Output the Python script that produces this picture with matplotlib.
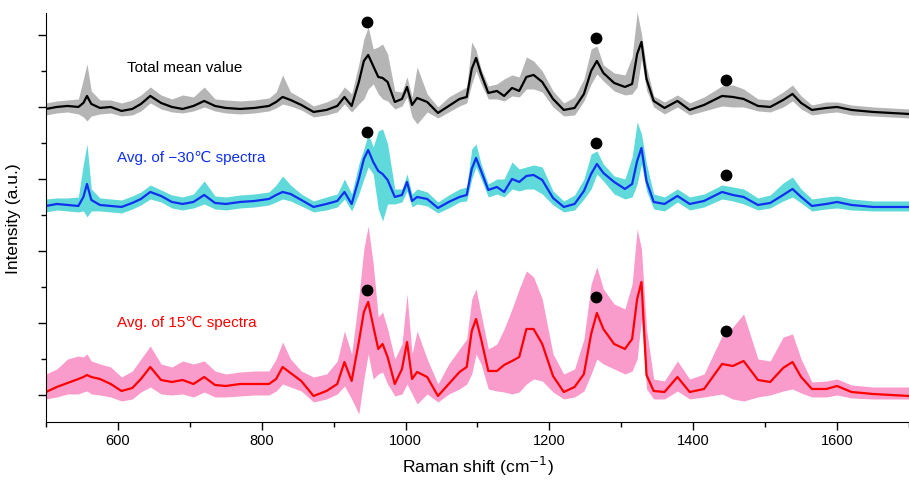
import matplotlib
matplotlib.use("Agg")
import matplotlib.pyplot as plt
from matplotlib.ticker import MultipleLocator

plt.rcParams['font.family'] = ['Liberation Sans', 'DejaVu Sans']

# Raman shift grid (cm^-1), shared by all three spectra
shift = [500, 515, 530, 545, 552, 557, 563, 575, 590, 605,
         620, 632, 645, 660, 675, 690, 705, 720, 735, 750,
         770, 790, 810, 820, 829, 840, 855, 872, 890, 905,
         915, 925, 935, 942, 948, 955, 962, 968, 975, 985,
         995, 1002, 1009, 1016, 1030, 1045, 1060, 1075, 1085, 1092,
         1098, 1105, 1115, 1127, 1137, 1148, 1158, 1168, 1178, 1190,
         1205, 1220, 1235, 1248, 1258, 1266, 1275, 1290, 1305, 1315,
         1322, 1328, 1335, 1345, 1360, 1378, 1395, 1415, 1440, 1455,
         1470, 1490, 1507, 1525, 1538, 1550, 1565, 1585, 1600, 1620,
         1650, 1675, 1700]

# total mean value (a.u., relative to its own baseline)
total_mean = [3, 5, 6, 5, 9, 16, 8, 4, 5, 1,
              3, 8, 16, 9, 5, 3, 6, 11, 6, 4,
              3, 4, 6, 10, 15, 12, 7, 0, 2, 6,
              15, 6, 30, 51, 57, 46, 35, 34, 30, 10,
              13, 25, 7, 14, 10, -1, 6, 13, 15, 43,
              54, 38, 19, 21, 16, 24, 21, 35, 37, 30,
              13, 2, 4, 18, 41, 51, 39, 29, 25, 28,
              58, 70, 33, 11, 4, 11, 2, 7, 16, 15,
              13, 6, 5, 12, 18, 9, 2, 4, 5, 2,
              0, -1, -2]
total_hi = [9, 11, 12, 13, 33, 48, 21, 12, 12, 9,
            12, 17, 25, 17, 13, 17, 15, 25, 13, 12,
            11, 12, 14, 20, 37, 20, 14, 6, 10, 15,
            25, 18, 48, 73, 85, 63, 65, 68, 58, 21,
            20, 35, 15, 45, 18, 5, 15, 21, 25, 70,
            62, 43, 26, 28, 33, 37, 35, 55, 51, 41,
            21, 9, 15, 33, 63, 66, 47, 39, 37, 55,
            100, 78, 45, 16, 10, 17, 9, 15, 26, 27,
            23, 13, 12, 20, 27, 16, 7, 10, 10, 7,
            5, 4, 3]
total_lo = [-3, -1, 0, -2, -5, -9, -4, -2, -1, -4,
            -3, 1, 9, 3, 0, -1, 1, 5, 1, -1,
            -2, -1, 1, 4, 8, 6, 2, -5, -3, 0,
            8, 0, 8, 13, 23, 28, 18, 13, 11, 3,
            6, 15, -5, -12, 0, -6, 0, 6, 9, 28,
            41, 28, 13, 13, 11, 16, 15, 23, 23, 20,
            5, -4, -3, 11, 28, 38, 31, 21, 17, 18,
            25, 53, 22, 5, -2, 5, -3, 1, 6, 5,
            5, 1, 0, 5, 11, 3, -3, -1, 0, -3,
            -4, -5, -6]

# average of -30 C spectra
cold_mean = [3, 5, 4, 3, 12, 25, 9, 4, 3, 2,
             6, 10, 17, 13, 7, 5, 7, 14, 6, 5,
             7, 8, 10, 14, 17, 15, 9, 2, 5, 8,
             17, 5, 30, 50, 59, 47, 38, 35, 29, 12,
             14, 27, 8, 12, 10, 1, 7, 12, 14, 40,
             51, 38, 19, 22, 17, 30, 27, 33, 34, 29,
             11, 2, 5, 18, 35, 45, 36, 27, 20, 25,
             48, 61, 28, 7, 5, 13, 5, 8, 17, 14,
             12, 4, 6, 14, 20, 12, 3, 5, 7, 4,
             2, 2, 2]
cold_hi = [10, 11, 11, 12, 45, 65, 20, 11, 10, 9,
           13, 17, 24, 19, 14, 12, 15, 28, 13, 12,
           14, 15, 17, 24, 33, 24, 15, 8, 12, 15,
           30, 15, 45, 60, 75, 62, 78, 80, 65, 20,
           20, 35, 15, 20, 17, 7, 14, 20, 22, 60,
           65, 45, 25, 30, 30, 47, 40, 42, 44, 42,
           18, 8, 14, 30, 55, 58, 45, 33, 30, 52,
           87, 75, 45, 15, 12, 20, 12, 15, 24, 22,
           20, 11, 14, 26, 32, 20, 10, 12, 13, 10,
           8, 8, 8]
cold_lo = [-3, -1, -2, -3, -2, -8, -2, -2, -3, -4,
           0, 4, 10, 7, 1, -1, 1, 5, 0, -1,
           1, 2, 4, 7, 10, 8, 3, -3, -1, 2,
           10, -2, 15, 30, 42, 35, 0, -12, 5, 5,
           7, 18, 2, 5, 3, -4, 1, 7, 8, 30,
           42, 30, 12, 15, 12, 20, 18, 20, 20, 15,
           4, -3, -1, 10, 20, 35, 28, 15, 10, 12,
           25, 45, 18, 0, -2, 7, -1, 2, 10, 8,
           5, -1, 1, 8, 12, 6, -2, 0, 1, -1,
           -2, -2, -2]

# average of 15 C spectra
warm_mean = [5, 10, 14, 18, 20, 22, 20, 18, 13, 6,
             9, 18, 30, 17, 15, 17, 13, 20, 12, 11,
             13, 13, 13, 18, 30, 24, 16, 1, 6, 13,
             35, 16, 55, 85, 95, 71, 48, 53, 40, 13,
             28, 55, 18, 25, 20, 1, 13, 25, 30, 66,
             78, 58, 26, 26, 32, 36, 40, 68, 68, 53,
             21, 5, 10, 23, 63, 84, 68, 53, 48, 58,
             98, 115, 22, 6, 5, 20, 5, 8, 33, 31,
             36, 17, 15, 29, 35, 20, 8, 8, 11, 5,
             3, 2, 1]
warm_hi = [23, 28, 38, 41, 40, 43, 36, 33, 30, 20,
           26, 38, 51, 33, 30, 36, 33, 36, 26, 23,
           25, 26, 26, 38, 55, 38, 26, 20, 23, 36,
           66, 43, 100, 148, 171, 133, 80, 85, 68, 38,
           53, 103, 43, 66, 38, 13, 33, 48, 58, 98,
           108, 83, 48, 53, 68, 88, 108, 126, 120, 98,
           43, 23, 28, 58, 113, 130, 108, 93, 88, 113,
           168, 148, 68, 18, 16, 36, 18, 23, 61, 70,
           83, 38, 36, 60, 63, 38, 15, 16, 18, 12,
           10, 10, 10]
warm_lo = [-2, 0, 3, 3, 5, 6, 3, 2, 0, -4,
           -2, 5, 10, 3, 2, 3, 0, 5, 0, 0,
           1, 2, 2, 6, 13, 10, 6, -5, -2, 3,
           11, -2, -17, 18, 43, 18, 23, 25, 13, 1,
           3, 13, 3, -7, 3, -5, 3, 8, 13, 23,
           43, 33, 8, 6, 5, 3, 5, 13, 18, 16,
           5, -2, 0, 6, 23, 38, 33, 28, 23, 26,
           38, 78, 8, -2, -2, 6, -2, 0, 3, -2,
           -4, 0, 2, 6, 8, 4, 0, 0, 2, -1,
           -2, -2, -2]

# marked bands and marker heights above each baseline
mark_shift = [947, 1265, 1446]
total_marks = [90, 74, 32]
cold_marks = [77, 66, 34]
warm_marks = [107, 100, 66]

series = [
    # label, mean, lo, hi, marks, offset, line colour, band colour, label pos
    ("Total mean value", total_mean, total_lo, total_hi, total_marks, 285,
     "black", "#b5b5b5", (612, 330)),
    ("Avg. of \u221230\u2103 spectra", cold_mean, cold_lo, cold_hi, cold_marks, 188,
     "#1030f0", "#5fd9d9", (599, 240)),
    ("Avg. of 15\u2103 spectra", warm_mean, warm_lo, warm_hi, warm_marks, 0,
     "#ff0000", "#f99ccc", (599, 75)),
]

fig = plt.figure(figsize=(9.09, 4.81), dpi=100)
ax = fig.add_axes([0.0506, 0.1206, 0.9494, 0.8504])

for label, mean, lo, hi, marks, off, lc, fc, pos in series:
    ax.fill_between(shift, [v + off for v in lo], [v + off for v in hi],
                    color=fc, lw=0, zorder=1)
    ax.plot(shift, [v + off for v in mean], color=lc, lw=1.6, zorder=2)
    ax.plot(mark_shift, [v + off for v in marks], 'o', color='black',
            ms=7.5, zorder=3)
    ax.text(pos[0], pos[1], label, color=lc, fontsize=11,
            va='center', ha='left')

ax.set_xlim(500, 1700)
ax.set_ylim(-25, 384)
ax.xaxis.set_major_locator(MultipleLocator(200))
ax.xaxis.set_minor_locator(MultipleLocator(100))
ax.set_yticks([2, 74, 146, 218, 290, 362])
ax.set_yticks([38, 110, 182, 254, 326], minor=True)
ax.set_yticklabels([])
ax.tick_params(which='major', length=6, width=1, labelsize=10.5, pad=2)
ax.tick_params(which='minor', length=3.5, width=1)
for s in ['top', 'right']:
    ax.spines[s].set_visible(False)

ax.set_xlabel("Raman shift (cm$^{-1}$)", fontsize=12.5, labelpad=5)
ax.set_ylabel("Intensity (a.u.)", fontsize=12.5, labelpad=10)

fig.savefig("out.png", dpi=100)
